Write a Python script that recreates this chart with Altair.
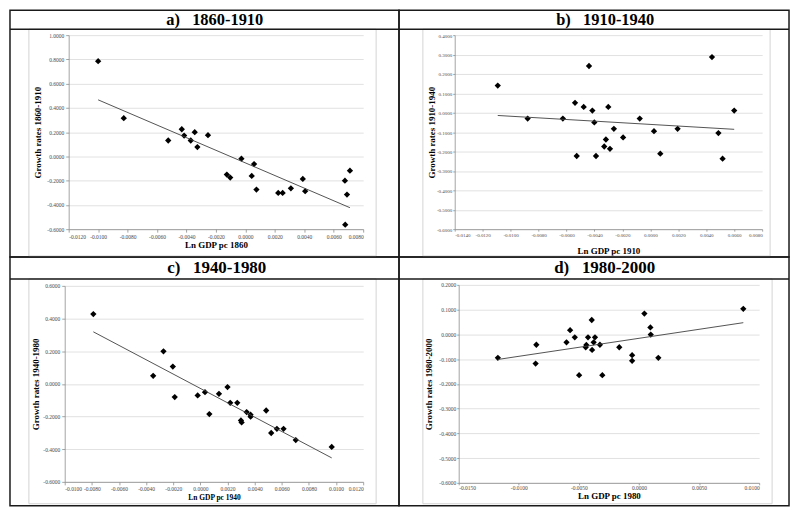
import altair as alt
import pandas as pd

# ---------------- data ----------------
# a) 1860-1910
A_X = [-0.0100, -0.00826, -0.00524, -0.00432, -0.00416, -0.00371, -0.00344, -0.00326,
       -0.00254, -0.00126, -0.00103, -0.00027, 0.00043, 0.00059, 0.00075, 0.00223,
       0.00253, 0.00309, 0.0039, 0.00406, 0.00676, 0.0069, 0.0071, 0.00678]
A_Y = [0.785, 0.315, 0.131, 0.224, 0.172, 0.131, 0.200, 0.077,
       0.175, -0.150, -0.175, -0.019, -0.161, -0.063, -0.274, -0.301,
       -0.301, -0.263, -0.186, -0.287, -0.200, -0.315, -0.118, -0.563]
# b) 1910-1940
B_X = [-0.01092, -0.00878, -0.00626, -0.00539, -0.00527, -0.00477, -0.00439, -0.00415,
       -0.00401, -0.00389, -0.0033, -0.00318, -0.00301, -0.00289, -0.00261, -0.00195,
       -0.00076, 0.00026, 0.00071, 0.00195, 0.00441, 0.00487, 0.00517, 0.0060]
B_Y = [0.140, -0.030, -0.030, 0.051, -0.223, 0.030, 0.241, 0.011,
       -0.050, -0.223, -0.174, -0.138, 0.030, -0.186, -0.083, -0.127,
       -0.030, -0.095, -0.211, -0.083, 0.287, -0.105, -0.237, 0.011]
# c) 1940-1980
C_X = [-0.00789, -0.00348, -0.00272, -0.00203, -0.00189, -0.0002, 0.00034, 0.00066,
       0.00137, 0.0020, 0.0022, 0.00272, 0.00299, 0.00304, 0.00341, 0.0037,
       0.0037, 0.00485, 0.00522, 0.00564, 0.00613, 0.00703, 0.00968]
C_Y = [0.427, 0.049, 0.199, 0.106, -0.081, -0.071, -0.051, -0.185,
       -0.061, -0.020, -0.116, -0.116, -0.224, -0.236, -0.173, -0.189,
       -0.201, -0.163, -0.301, -0.275, -0.275, -0.344, -0.386]
# d) 1980-2000
D_X = [-0.01174, -0.0086, -0.00854, -0.00603, -0.00573, -0.00534, -0.00498, -0.00443,
       -0.00438, -0.00424, -0.00393, -0.0039, -0.00377, -0.00366, -0.00325, -0.00305,
       -0.00164, -0.00057, -0.00057, 0.00045, 0.00095, 0.00098, 0.00161, 0.00868]
D_Y = [-0.095, -0.118, -0.042, -0.032, 0.017, -0.012, -0.165, -0.052,
       -0.043, -0.012, 0.058, -0.063, -0.032, -0.012, -0.042, -0.165,
       -0.052, -0.084, -0.107, 0.084, 0.028, -0.001, -0.095, 0.103]

TITLES = ["a)\u00a0\u00a0\u00a01860-1910", "b)\u00a0\u00a0\u00a01910-1940",
          "c)\u00a0\u00a0\u00a01940-1980", "d)\u00a0\u00a0\u00a01980-2000"]
X_TITLES = ["Ln GDP pc 1860", "Ln GDP pc 1910", "Ln GDP pc 1940", "Ln GDP pc 1980"]
Y_TITLES = ["Growth rates 1860-1910", "Growth rates 1910-1940",
            "Growth rates 1940-1980", "Growth rates 1980-2000"]

X_TICKS_A = [-0.012, -0.010, -0.008, -0.006, -0.004, -0.002, 0.0, 0.002, 0.004, 0.006, 0.008]
X_TICKS_B = [-0.014, -0.012, -0.010, -0.008, -0.006, -0.004, -0.002, 0.0, 0.002, 0.004, 0.006, 0.008]
X_TICKS_C = [-0.010, -0.008, -0.006, -0.004, -0.002, 0.0, 0.002, 0.004, 0.006, 0.008, 0.010, 0.012]
X_TICKS_D = [-0.015, -0.010, -0.005, 0.0, 0.005, 0.010]
Y_TICKS_A = [-0.6, -0.4, -0.2, 0.0, 0.2, 0.4, 0.6, 0.8, 1.0]
Y_TICKS_B = [-0.6, -0.5, -0.4, -0.3, -0.2, -0.1, 0.0, 0.1, 0.2, 0.3, 0.4]
Y_TICKS_C = [-0.6, -0.4, -0.2, 0.0, 0.2, 0.4, 0.6]
Y_TICKS_D = [-0.6, -0.5, -0.4, -0.3, -0.2, -0.1, 0.0, 0.1, 0.2]

FONT = "Liberation Serif"
LAB = "replace(format(datum.value, '.4f'), '\u2212', '-')"


def cell(xs, ys, title, xtitle, ytitle, xticks, yticks, w, h, xr, yr, head, frame,
         xt_size, xt_pad, yt_pad, lab_size, tick, lab_pad):
    df = pd.DataFrame({"x": xs, "y": ys})
    common = dict(labelExpr=LAB, labelFontSize=lab_size, tickSize=tick, labelPadding=lab_pad)
    X = alt.X("x:Q",
              scale=alt.Scale(domain=[xticks[0], xticks[-1]], range=xr, nice=False, zero=False),
              axis=alt.Axis(values=xticks, title=xtitle, offset=yr[0] - h,
                            grid=False, titleFontSize=xt_size, titlePadding=xt_pad, **common))
    Y = alt.Y("y:Q",
              scale=alt.Scale(domain=[yticks[0], yticks[-1]], range=yr, nice=False, zero=False),
              axis=alt.Axis(values=yticks, title=ytitle, offset=-xr[0],
                            grid=True, titlePadding=yt_pad, **common))
    one = alt.Chart(pd.DataFrame({"v": [0]}))
    frame_l = one.mark_rect(fill="white", fillOpacity=0, stroke="#d4d4d4", strokeWidth=1).encode(
        x=alt.value(frame[0]), x2=alt.value(frame[1]), y=alt.value(frame[2]), y2=alt.value(frame[3]))
    head_rule = one.mark_rule(color="#1a1a1a", strokeWidth=1.5).encode(
        x=alt.value(0), x2=alt.value(w), y=alt.value(head[2]))
    head_text = one.mark_text(align="left", baseline="middle", font=FONT, fontWeight="bold",
                              fontSize=head[3], color="black").encode(
        x=alt.value(head[0]), y=alt.value(head[1]), text=alt.value(title))
    pts = alt.Chart(df).mark_point(shape="diamond", filled=True, size=40, color="black",
                                   opacity=1).encode(x=X, y=Y)
    line = alt.Chart(df).transform_regression("x", "y").mark_line(
        color="#404040", strokeWidth=0.9).encode(x=X, y=Y)
    return alt.layer(frame_l, head_rule, head_text, pts, line).properties(width=w, height=h)


WL, WR = 391, 392
H1, H2 = 248, 250

ca = cell(A_X, A_Y, TITLES[0], X_TITLES[0], Y_TITLES[0], X_TICKS_A, Y_TICKS_A,
          WL, H1, [59, 355], [220, 25], [157, 9.5, 19, 16.5], [19, 368, 19, 247],
          9, 1, 4, 5.5, 3, 2)
cb = cell(B_X, B_Y, TITLES[1], X_TITLES[1], Y_TITLES[1], X_TICKS_B, Y_TICKS_B,
          WR, H1, [56, 365], [220, 25], [158, 9.5, 19, 16.5], [24, 373, 19, 247],
          9, 9, 0, 5, 2, 1)
cc = cell(C_X, C_Y, TITLES[2], X_TITLES[2], Y_TITLES[2], X_TICKS_C, Y_TICKS_C,
          WL, H2, [55, 355], [226, 29], [158, 11, 22, 17], [19, 368, 22, 248],
          7.5, 1, 2, 5.5, 3, 2)
cd = cell(D_X, D_Y, TITLES[3], X_TITLES[3], Y_TITLES[3], X_TICKS_D, Y_TICKS_D,
          WR, H2, [60, 362], [227, 28], [156, 11, 22, 17], [24, 375, 22, 248],
          9, 0, 5, 5.5, 2, 1)

chart = alt.concat(ca, cb, cc, cd, columns=2, spacing=0, bounds="flush").properties(
    padding=0
).configure_view(
    stroke="#1a1a1a", strokeWidth=1.5
).configure_axis(
    labelFont=FONT, labelColor="#4d4d4d",
    titleFont=FONT, titleFontWeight="bold", titleFontSize=9, titleColor="black",
    domainColor="#8c8c8c", tickColor="#8c8c8c",
    gridColor="#d9d9d9", gridWidth=0.8, domainWidth=0.8, tickWidth=0.8
)

chart.save("out.html", embed_options={"renderer": "svg", "actions": False})
